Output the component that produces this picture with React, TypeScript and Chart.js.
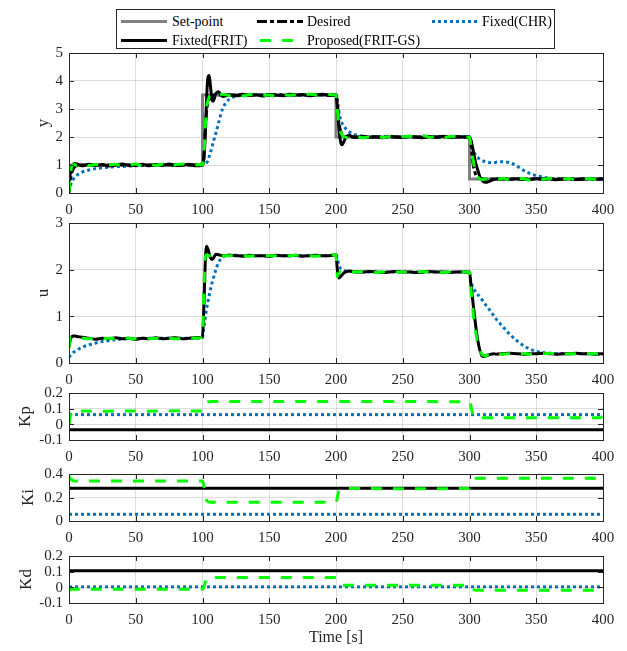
import React, { useEffect, useRef } from 'react';
import { Chart, registerables } from 'chart.js';
Chart.register(...registerables);

// ---------- data ----------
const time = [
  0, 1, 2, 3, 4, 6, 8, 10, 15, 20, 25, 30, 35, 40, 45, 50, 55, 60, 65, 70, 75, 80, 85, 90, 95,
  100, 101, 102, 103, 104, 105, 106, 107, 108, 110, 112, 115, 120, 125, 130, 135, 140, 145, 150, 155, 160, 165, 170, 175, 180, 185, 190, 195,
  200, 201, 202, 203, 204, 205, 206, 208, 210, 212, 215, 220, 225, 230, 235, 240, 245, 250, 255, 260, 265, 270, 275, 280, 285, 290, 295,
  300, 301, 302, 303, 304, 305, 306, 308, 310, 312, 315, 318, 320, 325, 330, 335, 340, 345, 350, 355, 360, 365, 370, 375, 380, 385, 390, 395, 400,
];

const setPointT = [0, 100, 100, 200, 200, 300, 300, 400];
const setPointY = [1, 1, 3.5, 3.5, 2, 2, 0.5, 0.5];

const yDesired = [
  0, 0.45, 0.7, 0.84, 0.92, 0.98, 1.0, 1.0, 1, 1, 1, 1, 1, 1, 1, 1, 1, 1, 1, 1, 1, 1, 1, 1, 1,
  1.0, 1.3, 2.2, 2.9, 3.2, 3.35, 3.43, 3.47, 3.49, 3.5, 3.5, 3.5, 3.5, 3.5, 3.5, 3.5, 3.5, 3.5, 3.5, 3.5, 3.5, 3.5, 3.5, 3.5, 3.5, 3.5, 3.5, 3.5,
  3.5, 3.2, 2.6, 2.3, 2.15, 2.08, 2.04, 2.01, 2.0, 2.0, 2.0, 2, 2, 2, 2, 2, 2, 2, 2, 2, 2, 2, 2, 2, 2, 2, 2,
  2.0, 1.8, 1.3, 0.95, 0.75, 0.63, 0.57, 0.52, 0.5, 0.5, 0.5, 0.5, 0.5, 0.5, 0.5, 0.5, 0.5, 0.5, 0.5, 0.5, 0.5, 0.5, 0.5, 0.5, 0.5, 0.5, 0.5, 0.5, 0.5,
];

const yGS = [
  0, 0.6, 0.95, 1.0, 1.02, 0.97, 1.0, 1.03, 0.98, 1.02, 0.96, 1.01, 1.03, 0.98, 1.0, 1.04, 0.97, 1.02, 0.99, 1.03, 0.96, 1.01, 1.04, 0.98, 1.01,
  1.0, 1.3, 2.3, 3.0, 3.3, 3.42, 3.48, 3.5, 3.52, 3.47, 3.5, 3.53, 3.48, 3.52, 3.47, 3.51, 3.54, 3.49, 3.5, 3.46, 3.53, 3.49, 3.51, 3.47, 3.54, 3.5, 3.48, 3.52,
  3.5, 3.0, 2.5, 2.25, 2.12, 2.05, 2.02, 1.98, 2.02, 1.99, 2.03, 1.97, 2.01, 2.04, 1.98, 2.02, 1.97, 2.01, 2.03, 1.98, 2.05, 1.99, 2.02, 1.97, 2.01, 2.03, 1.99,
  2.0, 1.7, 1.4, 1.1, 0.85, 0.68, 0.58, 0.5, 0.47, 0.51, 0.49, 0.52, 0.48, 0.53, 0.47, 0.5, 0.52, 0.46, 0.51, 0.49, 0.53, 0.48, 0.5, 0.52, 0.47, 0.5, 0.52, 0.48, 0.5,
];

const yFRIT = [
  0.4, 0.7, 0.9, 1.0, 1.05, 1.04, 1.0, 0.97, 1.03, 0.98, 1.02, 0.96, 1.01, 1.04, 0.98, 1.0, 1.03, 0.97, 1.02, 0.99, 1.04, 0.98, 1.0, 1.03, 0.97,
  1.0, 1.2, 2.0, 3.3, 4.1, 4.2, 3.8, 3.35, 3.28, 3.55, 3.62, 3.45, 3.5, 3.47, 3.53, 3.48, 3.51, 3.46, 3.52, 3.5, 3.47, 3.53, 3.5, 3.52, 3.47, 3.51, 3.53, 3.49,
  3.5, 3.1, 2.4, 1.95, 1.72, 1.75, 1.85, 2.02, 2.06, 2.01, 1.98, 2.03, 1.99, 2.01, 1.97, 2.02, 2.0, 1.98, 2.03, 2.0, 1.97, 2.02, 1.99, 2.03, 1.98, 2.01, 2.0,
  2.0, 1.9, 1.7, 1.45, 1.2, 1.0, 0.85, 0.55, 0.42, 0.38, 0.42, 0.48, 0.5, 0.52, 0.49, 0.51, 0.5, 0.48, 0.52, 0.49, 0.51, 0.47, 0.5, 0.52, 0.48, 0.5, 0.52, 0.49, 0.5,
];

const yCHR = [
  0.05, 0.25, 0.38, 0.47, 0.54, 0.64, 0.7, 0.75, 0.82, 0.87, 0.9, 0.92, 0.94, 0.95, 0.96, 0.97, 0.98, 0.98, 0.99, 0.99, 1.0, 1.0, 1.0, 1.0, 1.0,
  1.0, 1.0, 1.02, 1.07, 1.15, 1.3, 1.45, 1.62, 1.8, 2.14, 2.5, 3.0, 3.35, 3.46, 3.49, 3.5, 3.51, 3.5, 3.49, 3.5, 3.51, 3.5, 3.5, 3.49, 3.51, 3.5, 3.5, 3.5,
  3.5, 3.3, 2.95, 2.7, 2.55, 2.45, 2.38, 2.26, 2.18, 2.12, 2.07, 2.03, 2.01, 2.0, 2.0, 2.0, 2.01, 2.0, 2.0, 1.99, 2.0, 2.0, 2.01, 2.0, 2.0, 2.0, 2.0,
  2.0, 1.85, 1.65, 1.5, 1.4, 1.32, 1.27, 1.2, 1.15, 1.12, 1.09, 1.08, 1.1, 1.12, 1.08, 0.98, 0.82, 0.7, 0.62, 0.57, 0.53, 0.51, 0.5, 0.5, 0.5, 0.5, 0.5, 0.5, 0.5,
];

const uFRIT = [
  0.35, 0.5, 0.56, 0.58, 0.58, 0.57, 0.56, 0.55, 0.53, 0.51, 0.53, 0.52, 0.54, 0.52, 0.53, 0.51, 0.53, 0.52, 0.54, 0.52, 0.53, 0.54, 0.52, 0.53, 0.54,
  0.55, 1.2, 2.1, 2.5, 2.45, 2.35, 2.25, 2.22, 2.24, 2.33, 2.32, 2.3, 2.31, 2.3, 2.29, 2.31, 2.3, 2.3, 2.29, 2.31, 2.3, 2.3, 2.31, 2.29, 2.3, 2.31, 2.3, 2.3,
  2.32, 2.0, 1.82, 1.84, 1.87, 1.9, 1.93, 1.96, 1.97, 1.96, 1.95, 1.95, 1.96, 1.95, 1.94, 1.95, 1.96, 1.95, 1.95, 1.94, 1.95, 1.96, 1.95, 1.95, 1.94, 1.95, 1.95,
  1.95, 1.7, 1.45, 1.2, 0.95, 0.72, 0.52, 0.25, 0.14, 0.15, 0.18, 0.2, 0.19, 0.2, 0.21, 0.2, 0.19, 0.2, 0.2, 0.21, 0.2, 0.19, 0.2, 0.2, 0.21, 0.2, 0.2, 0.19, 0.2,
];

const uGS = [
  0.33, 0.55, 0.56, 0.55, 0.54, 0.54, 0.53, 0.53, 0.52, 0.53, 0.52, 0.53, 0.52, 0.54, 0.53, 0.52, 0.53, 0.52, 0.53, 0.51, 0.53, 0.52, 0.53, 0.54, 0.53,
  0.55, 1.5, 2.25, 2.32, 2.31, 2.3, 2.3, 2.3, 2.3, 2.31, 2.3, 2.3, 2.3, 2.31, 2.3, 2.29, 2.3, 2.31, 2.3, 2.3, 2.29, 2.3, 2.31, 2.3, 2.3, 2.29, 2.3, 2.31,
  2.32, 1.85, 1.92, 1.95, 1.96, 1.95, 1.95, 1.95, 1.96, 1.95, 1.95, 1.96, 1.95, 1.94, 1.95, 1.96, 1.95, 1.95, 1.94, 1.95, 1.96, 1.95, 1.95, 1.94, 1.95, 1.96, 1.95,
  1.95, 1.6, 1.3, 1.0, 0.8, 0.6, 0.45, 0.25, 0.17, 0.15, 0.2, 0.18, 0.2, 0.19, 0.2, 0.21, 0.2, 0.19, 0.2, 0.2, 0.21, 0.2, 0.19, 0.2, 0.2, 0.21, 0.2, 0.2, 0.2,
];

const uCHR = [
  0.12, 0.16, 0.19, 0.22, 0.24, 0.28, 0.31, 0.34, 0.39, 0.43, 0.46, 0.48, 0.5, 0.51, 0.52, 0.52, 0.53, 0.53, 0.53, 0.53, 0.53, 0.53, 0.53, 0.53, 0.53,
  0.55, 0.75, 0.95, 1.15, 1.3, 1.45, 1.58, 1.7, 1.8, 2.0, 2.15, 2.27, 2.31, 2.31, 2.3, 2.3, 2.3, 2.3, 2.3, 2.3, 2.3, 2.3, 2.3, 2.3, 2.3, 2.3, 2.3, 2.3,
  2.32, 2.22, 2.12, 2.05, 2.01, 1.99, 1.98, 1.97, 1.96, 1.96, 1.95, 1.95, 1.95, 1.95, 1.95, 1.95, 1.95, 1.95, 1.95, 1.95, 1.95, 1.95, 1.95, 1.95, 1.95, 1.95, 1.95,
  1.95, 1.75, 1.66, 1.6, 1.55, 1.5, 1.47, 1.41, 1.33, 1.25, 1.14, 1.02, 0.94, 0.78, 0.62, 0.49, 0.38, 0.3, 0.25, 0.22, 0.21, 0.2, 0.2, 0.2, 0.2, 0.2, 0.2, 0.2, 0.2,
];

const constT = [0, 400];
const kpFRIT = [-0.035, -0.035];
const kpCHR = [0.062, 0.062];
const kiFRIT = [0.278, 0.278];
const kiCHR = [0.057, 0.057];
const kdFRIT = [0.106, 0.106];
const kdCHR = [0.003, 0.003];

const kpT = [0, 1, 2, 3, 6, 20, 40, 60, 80, 100, 101, 102, 103, 104, 106, 150, 200, 250, 300, 301, 302, 303, 304, 306, 350, 398, 400];
const kpGS = [0, 0.05, 0.075, 0.085, 0.086, 0.083, 0.085, 0.084, 0.086, 0.085, 0.09, 0.115, 0.135, 0.142, 0.145, 0.145, 0.146, 0.145, 0.144, 0.12, 0.08, 0.055, 0.045, 0.042, 0.042, 0.042, 0.055];

const kiT = [0, 1, 2, 4, 50, 100, 101, 102, 103, 104, 106, 150, 200, 201, 202, 203, 204, 206, 250, 300, 301, 302, 303, 304, 306, 350, 400];
const kiGS = [0.38, 0.36, 0.35, 0.34, 0.34, 0.34, 0.3, 0.22, 0.18, 0.165, 0.16, 0.16, 0.16, 0.2, 0.25, 0.27, 0.275, 0.276, 0.275, 0.276, 0.3, 0.33, 0.35, 0.36, 0.363, 0.363, 0.363];

const kdT = [0, 2, 50, 100, 101, 102, 103, 104, 150, 200, 201, 202, 203, 204, 205, 250, 300, 301, 302, 303, 305, 350, 400];
const kdGS = [-0.02, -0.012, -0.012, -0.012, 0.0, 0.03, 0.055, 0.063, 0.063, 0.063, 0.055, 0.04, 0.025, 0.016, 0.014, 0.014, 0.014, 0.005, -0.008, -0.015, -0.018, -0.018, -0.018];

// tick labels
const xTickValues = [0, 50, 100, 150, 200, 250, 300, 350, 400];
const yTickValues = [0, 1, 2, 3, 4, 5];
const uTickValues = [0, 1, 2, 3];
const kpTickValues = [-0.1, 0, 0.1, 0.2];
const kiTickValues = [0, 0.2, 0.4];
const kdTickValues = [-0.1, 0, 0.1, 0.2];
const legendLabels = ['Set-point', 'Desired', 'Fixed(CHR)', 'Fixted(FRIT)', 'Proposed(FRIT-GS)'];

// ---------- styles ----------
const FONT = '"Liberation Serif", "Times New Roman", Times, serif';
Chart.defaults.font.family = FONT;
const TICK_SIZE = 15;
const TEXT = '#262626';
const GRAY = '#808080';
const BLACK = '#000000';
const GREEN = '#00ff00';
const BLUE = '#0072BD';
const DASH_DESIRED = [10, 3, 4, 3];
const DASH_GS = [11, 11];
const DASH_CHR = [3, 3];

type Ser = { x: number[]; y: number[]; color: string; width: number; dash: number[]; order: number; smooth: boolean };

function ser(x: number[], y: number[], color: string, dash: number[], order: number, smooth = true, width = 3): Ser {
  return { x, y, color, width, dash, order, smooth };
}

type PanelCfg = {
  areaTop: number; areaH: number; xAxisH: number;
  yTicks: number[];
  label: string; labelPad: number; time?: boolean;
  series: Ser[];
};

const PAD_TOP = 12;
const AXIS_W = 69;
const PAD_RIGHT = 24;

const panels: PanelCfg[] = [
  {
    areaTop: 53, areaH: 140, xAxisH: 26, yTicks: yTickValues, label: 'y', labelPad: 33,
    series: [
      ser(setPointT, setPointY, GRAY, [], 5, false),
      ser(time, yCHR, BLUE, DASH_CHR, 4),
      ser(time, yDesired, BLACK, DASH_DESIRED, 3),
      ser(time, yFRIT, BLACK, [], 2),
      ser(time, yGS, GREEN, DASH_GS, 1),
    ],
  },
  {
    areaTop: 223, areaH: 140, xAxisH: 26, yTicks: uTickValues, label: 'u', labelPad: 33,
    series: [
      ser(time, uCHR, BLUE, DASH_CHR, 4),
      ser(time, uFRIT, BLACK, [], 2),
      ser(time, uGS, GREEN, DASH_GS, 1),
    ],
  },
  {
    areaTop: 393, areaH: 47, xAxisH: 26, yTicks: kpTickValues, label: 'Kp', labelPad: 15,
    series: [
      ser(constT, kpCHR, BLUE, DASH_CHR, 4, false),
      ser(constT, kpFRIT, BLACK, [], 2, false),
      ser(kpT, kpGS, GREEN, DASH_GS, 1),
    ],
  },
  {
    areaTop: 474, areaH: 47, xAxisH: 26, yTicks: kiTickValues, label: 'Ki', labelPad: 18,
    series: [
      ser(constT, kiCHR, BLUE, DASH_CHR, 4, false),
      ser(constT, kiFRIT, BLACK, [], 2, false),
      ser(kiT, kiGS, GREEN, DASH_GS, 1),
    ],
  },
  {
    areaTop: 556, areaH: 47, xAxisH: 48, yTicks: kdTickValues, label: 'Kd', labelPad: 16, time: true,
    series: [
      ser(constT, kdCHR, BLUE, DASH_CHR, 4, false),
      ser(constT, kdFRIT, BLACK, [], 2, false),
      ser(kdT, kdGS, GREEN, DASH_GS, 1),
    ],
  },
];

function fmt(v: number) {
  return String(Number(v.toFixed(2)));
}

// MATLAB-like box, inward tick marks and y tick labels (built per panel from its tick list)
function makeBoxPlugin(yTicks: number[]) {
  return {
    id: 'matlabBox',
    afterDraw(chart: any) {
      const { ctx, chartArea: a, scales } = chart;
      const L = 5;
      ctx.save();
      ctx.strokeStyle = TEXT;
      ctx.lineWidth = 1;
      ctx.setLineDash([]);
      ctx.beginPath();
      xTickValues.forEach((v) => {
        const px = Math.round(scales.x.getPixelForValue(v)) + 0.5;
        ctx.moveTo(px, a.top); ctx.lineTo(px, a.top + L);
        ctx.moveTo(px, a.bottom); ctx.lineTo(px, a.bottom - L);
      });
      yTicks.forEach((v) => {
        const py = Math.round(scales.y.getPixelForValue(v)) + 0.5;
        ctx.moveTo(a.left, py); ctx.lineTo(a.left + L, py);
        ctx.moveTo(a.right, py); ctx.lineTo(a.right - L, py);
      });
      ctx.stroke();
      ctx.strokeRect(Math.round(a.left) + 0.5, Math.round(a.top) + 0.5, Math.round(a.right - a.left), Math.round(a.bottom - a.top));
      ctx.fillStyle = TEXT;
      ctx.font = `${TICK_SIZE}px ${FONT}`;
      ctx.textAlign = 'right';
      ctx.textBaseline = 'middle';
      yTicks.forEach((v) => {
        const py = scales.y.getPixelForValue(v);
        ctx.fillText(fmt(v), a.left - 6, py + 0.5);
      });
      ctx.restore();
    },
  };
}

function Panel({ cfg, z }: { cfg: PanelCfg; z: number }) {
  const ref = useRef<HTMLCanvasElement>(null);
  const h = PAD_TOP + cfg.areaH + cfg.xAxisH;
  useEffect(() => {
    const yT = cfg.yTicks;
    const chart = new Chart(ref.current as HTMLCanvasElement, {
      type: 'line',
      data: {
        datasets: cfg.series.map((s) => ({
          data: s.x.map((xv, i) => ({ x: xv, y: s.y[i] })),
          borderColor: s.color,
          backgroundColor: s.color,
          borderWidth: s.width,
          borderDash: s.dash,
          borderCapStyle: 'butt',
          pointRadius: 0,
          fill: false,
          order: s.order,
          cubicInterpolationMode: s.smooth ? 'monotone' : 'default',
          tension: 0,
        })) as any,
      },
      options: {
        responsive: false,
        maintainAspectRatio: false,
        animation: false,
        devicePixelRatio: 1,
        events: [],
        layout: { padding: { top: PAD_TOP, right: PAD_RIGHT, left: 0, bottom: 0 } },
        plugins: { legend: { display: false }, tooltip: { enabled: false } },
        scales: {
          x: {
            type: 'linear',
            min: xTickValues[0],
            max: xTickValues[xTickValues.length - 1],
            afterBuildTicks: (s: any) => { s.ticks = xTickValues.map((v) => ({ value: v })); },
            ticks: { color: TEXT, font: { family: FONT, size: TICK_SIZE }, padding: 8, maxRotation: 0, autoSkip: false, callback: (v: any) => fmt(Number(v)) },
            grid: { color: 'rgba(0,0,0,0.13)', drawTicks: false, lineWidth: 1 },
            border: { display: false },
            title: cfg.time
              ? { display: true, text: 'Time [s]', color: TEXT, font: { family: FONT, size: 16 }, padding: { top: 0, bottom: 4 } }
              : { display: false },
            afterFit: (s: any) => { s.height = cfg.xAxisH; },
          },
          y: {
            type: 'linear',
            min: yT[0],
            max: yT[yT.length - 1],
            bounds: 'data',
            afterBuildTicks: (s: any) => { s.ticks = yT.map((v) => ({ value: v })); },
            ticks: { display: false, autoSkip: false },
            grid: { color: 'rgba(0,0,0,0.13)', drawTicks: false, lineWidth: 1 },
            border: { display: false },
            title: { display: true, text: cfg.label, color: TEXT, font: { family: FONT, size: 17 }, padding: { top: cfg.labelPad, bottom: 0 } },
            afterFit: (s: any) => { s.width = AXIS_W; },
          },
        },
      } as any,
      plugins: [makeBoxPlugin(yT)],
    });
    return () => chart.destroy();
  }, []);
  return (
    <canvas
      ref={ref}
      width={627}
      height={h}
      style={{ position: 'absolute', left: 0, top: cfg.areaTop - PAD_TOP, width: 627, height: h, zIndex: z }}
    />
  );
}

function LineSample({ x1, x2, y, color, dash, width = 3 }: { x1: number; x2: number; y: number; color: string; dash: number[]; width?: number }) {
  return (
    <line x1={x1} x2={x2} y1={y} y2={y} stroke={color} strokeWidth={width} strokeDasharray={dash.length ? dash.join(' ') : undefined} />
  );
}

function Legend() {
  const L = 116, T = 9, W = 439, H = 40;
  const r1 = 21.5 - T, r2 = 40.5 - T;
  const items = [
    { label: legendLabels[0], x1: 121, x2: 167, tx: 172, y: r1, color: GRAY, dash: [] as number[] },
    { label: legendLabels[1], x1: 257, x2: 303, tx: 307, y: r1, color: BLACK, dash: DASH_DESIRED },
    { label: legendLabels[2], x1: 432, x2: 478, tx: 482, y: r1, color: BLUE, dash: DASH_CHR },
    { label: legendLabels[3], x1: 121, x2: 167, tx: 172, y: r2, color: BLACK, dash: [] as number[] },
    { label: legendLabels[4], x1: 260, x2: 303, tx: 307, y: r2, color: GREEN, dash: DASH_GS },
  ];
  return (
    <div style={{ position: 'absolute', left: L, top: T, width: W, height: H, border: '1px solid #262626', boxSizing: 'border-box', background: '#fff', fontFamily: FONT, fontSize: 14, color: '#000', zIndex: 50 }}>
      <svg width={W} height={H} style={{ position: 'absolute', left: -1, top: -1 }}>
        {items.map((it, i) => (
          <LineSample key={i} x1={it.x1 - L} x2={it.x2 - L} y={it.y} color={it.color} dash={it.dash} />
        ))}
      </svg>
      {items.map((it, i) => (
        <div key={i} style={{ position: 'absolute', left: it.tx - L - 1, top: it.y - 9 - 1, lineHeight: '18px', whiteSpace: 'nowrap' }}>{it.label}</div>
      ))}
    </div>
  );
}

export default function App() {
  return (
    <div style={{ position: 'absolute', left: 0, top: 0, width: 627, height: 651, background: '#fff', overflow: 'hidden' }}>
      {panels.map((p, i) => (
        <Panel key={i} cfg={p} z={10 - i} />
      ))}
      <Legend />
    </div>
  );
}
